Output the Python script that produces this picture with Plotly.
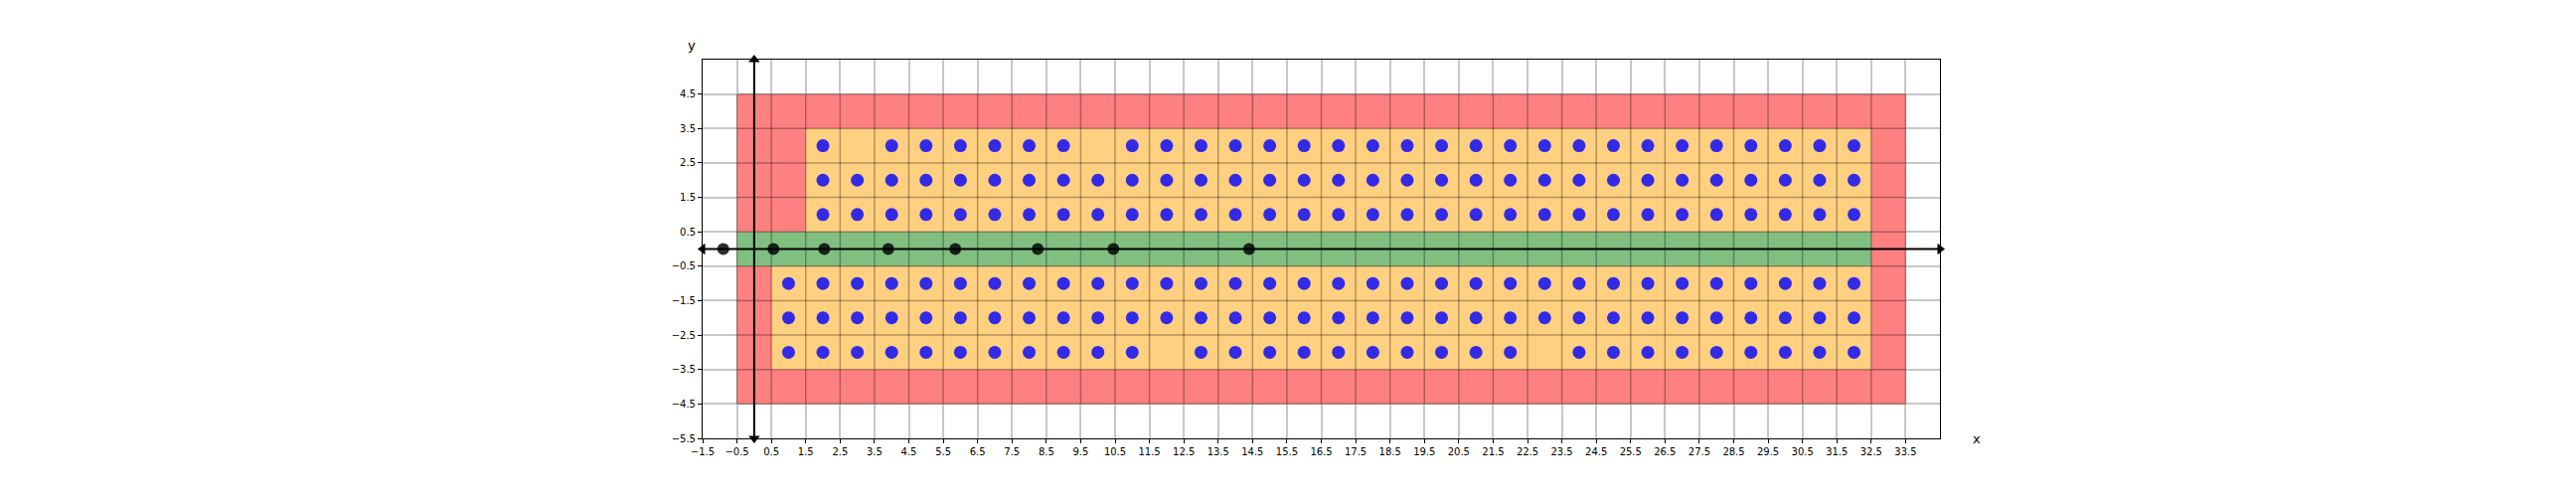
import plotly.graph_objects as go

# ---------------- data ----------------
x_ticks = [-1.5 + i for i in range(36)]          # -1.5 ... 33.5
y_ticks = [4.5 - i for i in range(11)]           # 4.5 ... -5.5
x_range = [-1.5, 34.5]
y_range = [-5.5, 5.5]

# coloured regions: (x0, x1, y0, y1)
red_region = [-0.5, 33.5, -4.5, 4.5]
orange_top = [1.5, 32.5, 0.5, 3.5]
orange_bottom = [0.5, 32.5, -3.5, -0.5]
green_region = [-0.5, 32.5, -0.5, 0.5]

# blue points, one list of x per row
row_y3 = [2, 4, 5, 6, 7, 8, 9, 11, 12, 13, 14, 15, 16, 17, 18, 19, 20, 21, 22,
          23, 24, 25, 26, 27, 28, 29, 30, 31, 32]
row_y2 = [2, 3, 4, 5, 6, 7, 8, 9, 10, 11, 12, 13, 14, 15, 16, 17, 18, 19, 20,
          21, 22, 23, 24, 25, 26, 27, 28, 29, 30, 31, 32]
row_y1 = [2, 3, 4, 5, 6, 7, 8, 9, 10, 11, 12, 13, 14, 15, 16, 17, 18, 19, 20,
          21, 22, 23, 24, 25, 26, 27, 28, 29, 30, 31, 32]
row_ym1 = [1, 2, 3, 4, 5, 6, 7, 8, 9, 10, 11, 12, 13, 14, 15, 16, 17, 18, 19,
           20, 21, 22, 23, 24, 25, 26, 27, 28, 29, 30, 31, 32]
row_ym2 = [1, 2, 3, 4, 5, 6, 7, 8, 9, 10, 11, 12, 13, 14, 15, 16, 17, 18, 19,
           20, 21, 22, 23, 24, 25, 26, 27, 28, 29, 30, 31, 32]
row_ym3 = [1, 2, 3, 4, 5, 6, 7, 8, 9, 10, 11, 13, 14, 15, 16, 17, 18, 19, 20,
           21, 22, 24, 25, 26, 27, 28, 29, 30, 31, 32]
rows = {3: row_y3, 2: row_y2, 1: row_y1, -1: row_ym1, -2: row_ym2, -3: row_ym3}

# black points on the x axis
black_x = [-0.9, 0.56, 2.04, 3.9, 5.85, 8.25, 10.45, 14.4]
black_y = [0, 0, 0, 0, 0, 0, 0, 0]


def fmt(v):
    s = f"{v:g}"
    return s.replace("-", "\u2212")


fig = go.Figure()


def rect_trace(r, color):
    x0, x1, y0, y1 = r
    return go.Scatter(x=[x0, x1, x1, x0, x0], y=[y0, y0, y1, y1, y0],
                      mode="lines", fill="toself", fillcolor=color,
                      line=dict(width=0), hoverinfo="skip", showlegend=False)


fig.add_trace(rect_trace(red_region, "#ff8080"))
fig.add_trace(rect_trace(orange_top, "#ffd080"))
fig.add_trace(rect_trace(orange_bottom, "#ffd080"))
fig.add_trace(rect_trace(green_region, "#80bf80"))

# dark cell edges over the coloured area
ex, ey = [], []
rx0, rx1, ry0, ry1 = red_region
for xv in x_ticks:
    if rx0 <= xv <= rx1:
        ex += [xv, xv, None]
        ey += [ry0, ry1, None]
for yv in y_ticks:
    if ry0 <= yv <= ry1:
        ex += [rx0, rx1, None]
        ey += [yv, yv, None]
fig.add_trace(go.Scatter(x=ex, y=ey, mode="lines",
                         line=dict(color="rgba(0,0,0,0.3)", width=1.5),
                         hoverinfo="skip", showlegend=False))

# axis arrows
fig.add_trace(go.Scatter(x=[x_range[0], x_range[1]], y=[0, 0], mode="lines",
                         line=dict(color="black", width=2), showlegend=False,
                         cliponaxis=False))
fig.add_trace(go.Scatter(x=[0, 0], y=[y_range[0], y_range[1]], mode="lines",
                         line=dict(color="black", width=2), showlegend=False,
                         cliponaxis=False))
fig.add_trace(go.Scatter(
    x=[x_range[1], x_range[0], 0, 0], y=[0, 0, y_range[1], y_range[0]],
    mode="markers", cliponaxis=False, showlegend=False,
    marker=dict(symbol=["triangle-right", "triangle-left", "triangle-up", "triangle-down"],
                size=10, color="black")))

# blue points
bx, by = [], []
for yv, xs in rows.items():
    bx += xs
    by += [yv] * len(xs)
fig.add_trace(go.Scatter(x=bx, y=by, mode="markers", showlegend=False,
                         marker=dict(size=13, color="rgba(0,0,255,0.8)", line=dict(width=0))))

# black points
fig.add_trace(go.Scatter(x=black_x, y=black_y, mode="markers", showlegend=False,
                         cliponaxis=False,
                         marker=dict(size=12, color="rgba(0,0,0,0.82)", line=dict(width=0))))

axis_common = dict(showgrid=True, gridcolor="#c8c8c8", gridwidth=1.5,
                   zeroline=False, showline=True, linecolor="black", linewidth=1,
                   mirror=True, ticks="outside", ticklen=4, tickcolor="black",
                   tickfont=dict(family="DejaVu Sans", size=10, color="black"))

fig.update_xaxes(range=x_range, tickmode="array", tickvals=x_ticks,
                 ticktext=[fmt(v) for v in x_ticks], **axis_common)
fig.update_yaxes(range=y_range, tickmode="array", tickvals=y_ticks,
                 ticktext=[fmt(v) for v in y_ticks], **axis_common)

fig.add_annotation(text="y", xref="paper", yref="paper", x=-0.009, y=1.038,
                   xanchor="center", yanchor="middle", showarrow=False,
                   font=dict(family="DejaVu Sans", size=13, color="black"))
fig.add_annotation(text="x", xref="paper", yref="paper", x=1.0297, y=0.0,
                   xanchor="center", yanchor="middle", showarrow=False,
                   font=dict(family="DejaVu Sans", size=13, color="black"))

# the page body has an 8px margin, so the figure is shifted by 8px
fig.update_layout(width=2584, height=496, plot_bgcolor="white", paper_bgcolor="white",
                  margin=dict(l=699, r=640, t=52, b=63, autoexpand=False),
                  showlegend=False)

fig.write_html("out.html")
